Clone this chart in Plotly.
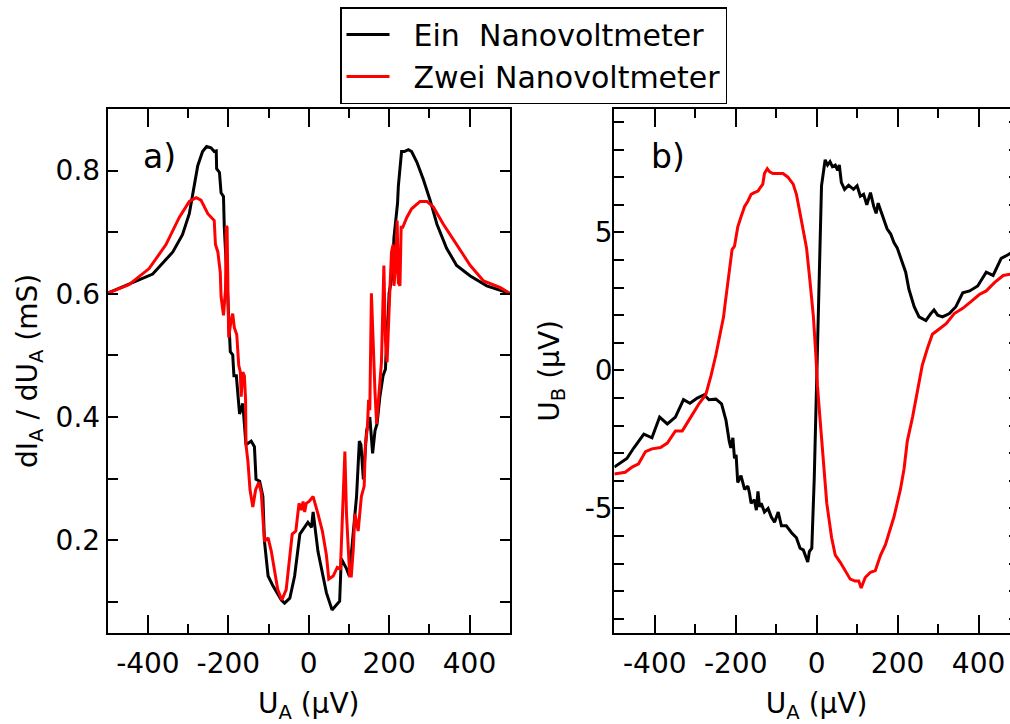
import plotly.graph_objects as go

# ---------------- Panel a: dI_A/dU_A (mS) vs U_A (µV) ----------------
a_ein_x = [-500, -438, -388, -338, -314, -297, -276, -264, -254, -243, -235, -230, -229,
           -222, -218, -212, -210, -205, -201, -197, -195, -189, -186, -180, -176, -172,
           -164, -156, -143, -135, -131, -122, -114, -110, -101, -89, -68, -60, -47, -35,
           -22, -10, -2, 7, 11, 23, 44, 58, 77, 81, 94, 101, 112, 119, 126, 130, 136, 144,
           152, 159, 165, 170, 177, 185, 191, 194, 198, 200, 206, 210, 212, 217, 221, 223,
           227, 231, 238, 248, 256, 269, 285, 302, 319, 343, 368, 402, 443, 500]
a_ein_y = [0.601, 0.618, 0.632, 0.668, 0.696, 0.730, 0.808, 0.831, 0.839, 0.837, 0.831, 0.832,
           0.803, 0.797, 0.764, 0.758, 0.708, 0.646, 0.579, 0.534, 0.506, 0.501, 0.467, 0.467,
           0.433, 0.405, 0.422, 0.355, 0.361, 0.352, 0.299, 0.296, 0.271, 0.198, 0.142, 0.126,
           0.103, 0.098, 0.106, 0.142, 0.210, 0.221, 0.229, 0.221, 0.246, 0.182, 0.115, 0.087,
           0.101, 0.170, 0.154, 0.142, 0.226, 0.271, 0.361, 0.355, 0.299, 0.378, 0.400, 0.341,
           0.378, 0.389, 0.433, 0.467, 0.478, 0.534, 0.568, 0.601, 0.624, 0.657, 0.691, 0.719,
           0.747, 0.775, 0.803, 0.831, 0.831, 0.834, 0.831, 0.814, 0.786, 0.752, 0.713, 0.674,
           0.646, 0.629, 0.613, 0.601]

a_zwei_x = [-500, -447, -397, -355, -322, -297, -280, -268, -251, -235, -232, -226, -220,
            -218, -212, -207, -205, -203, -200, -199, -193, -189, -185, -179, -174, -170,
            -168, -164, -160, -157, -156, -151, -146, -139, -132, -124, -118, -114, -110,
            -101, -93, -77, -67, -56, -41, -32, -24, -18, -14, -10, -6, 1, 11, 23, 34, 44,
            50, 61, 71, 79, 90, 94, 102, 106, 111, 115, 123, 131, 138, 141, 146, 149, 152,
            156, 160, 165, 169, 173, 177, 181, 187, 191, 195, 198, 202, 206, 210, 212, 216,
            220, 223, 227, 230, 234, 244, 256, 277, 294, 310, 335, 368, 402, 435, 477, 500]
a_zwei_y = [0.601, 0.615, 0.641, 0.680, 0.724, 0.750, 0.756, 0.752, 0.730, 0.719, 0.680,
            0.668, 0.635, 0.596, 0.565, 0.607, 0.710, 0.708, 0.568, 0.529, 0.557, 0.568,
            0.545, 0.534, 0.484, 0.473, 0.433, 0.473, 0.467, 0.428, 0.355, 0.327, 0.282,
            0.254, 0.282, 0.294, 0.277, 0.226, 0.198, 0.204, 0.182, 0.120, 0.103, 0.120,
            0.210, 0.215, 0.260, 0.249, 0.263, 0.246, 0.260, 0.263, 0.271, 0.243, 0.215,
            0.176, 0.137, 0.142, 0.156, 0.154, 0.344, 0.243, 0.142, 0.142, 0.187, 0.243,
            0.215, 0.271, 0.288, 0.355, 0.383, 0.428, 0.411, 0.601, 0.523, 0.439, 0.389,
            0.428, 0.467, 0.489, 0.646, 0.523, 0.489, 0.551, 0.607, 0.668, 0.680, 0.613,
            0.641, 0.719, 0.618, 0.613, 0.708, 0.708, 0.724, 0.738, 0.750, 0.750, 0.741,
            0.713, 0.680, 0.646, 0.621, 0.610, 0.601]

# ---------------- Panel b: U_B (µV) vs U_A (µV) ----------------
b_ein_x = [-500, -469, -452, -427, -407, -388, -369, -349, -329, -313, -295, -278, -266,
           -249, -235, -224, -216, -212, -207, -203, -199, -195, -187, -178, -170, -166,
           -162, -154, -149, -145, -141, -137, -129, -120, -112, -104, -95, -87, -75, -62,
           -50, -41, -33, -22, -18, -12, -6, 0, 6, 12, 21, 27, 33, 39, 46, 52, 56, 61, 69,
           79, 91, 100, 108, 116, 124, 133, 141, 147, 152, 158, 166, 174, 183, 191, 199,
           205, 212, 220, 228, 241, 253, 270, 282, 290, 299, 311, 328, 344, 361, 378, 398,
           419, 436, 456, 473, 485, 500]
b_ein_y = [-3.50, -3.19, -2.81, -2.31, -2.44, -1.69, -1.94, -1.69, -1.06, -1.19, -1.00,
           -0.88, -1.06, -1.04, -1.21, -1.81, -2.56, -2.81, -2.44, -3.19, -3.06, -4.06,
           -3.81, -4.31, -4.19, -4.44, -4.81, -4.69, -5.06, -4.38, -4.94, -4.81, -5.13,
           -5.00, -5.31, -5.50, -5.13, -5.63, -5.63, -5.88, -6.06, -6.44, -6.50, -6.94,
           -6.56, -6.44, -3.94, -0.19, 3.19, 6.69, 7.63, 7.44, 7.56, 7.38, 7.44, 7.25, 7.44,
           6.81, 6.56, 6.71, 6.56, 6.69, 6.31, 6.38, 6.00, 6.44, 5.94, 5.69, 6.06, 5.81,
           5.44, 5.13, 4.94, 4.63, 4.44, 4.19, 3.94, 3.56, 2.94, 2.31, 1.94, 1.81, 2.06,
           2.19, 2.00, 1.94, 2.06, 2.31, 2.81, 2.88, 3.06, 3.56, 3.44, 4.06, 4.19, 4.31, 4.50]

b_zwei_x = [-500, -473, -456, -440, -423, -407, -386, -369, -349, -332, -311, -290, -274,
            -261, -249, -237, -230, -227, -220, -216, -209, -203, -195, -187, -178, -170,
            -162, -154, -145, -139, -133, -129, -122, -116, -108, -83, -71, -58, -50, -41,
            -33, -25, -17, -8, -2, 2, 8, 17, 25, 37, 46, 58, 71, 83, 95, 104, 110, 120, 133,
            145, 158, 170, 183, 191, 199, 207, 216, 224, 237, 249, 261, 274, 286, 303, 320,
            340, 361, 382, 402, 419, 440, 461, 485, 500]
b_zwei_y = [-3.75, -3.69, -3.50, -3.38, -2.94, -2.84, -2.79, -2.63, -2.19, -2.19, -1.69,
            -1.19, -0.88, -0.19, 0.56, 1.44, 1.94, 2.31, 3.06, 3.44, 4.38, 4.50, 5.19, 5.56,
            5.94, 6.13, 6.38, 6.44, 6.50, 6.63, 6.75, 7.13, 7.31, 7.19, 7.13, 7.13, 7.00,
            6.75, 6.38, 5.69, 5.06, 4.44, 3.31, 1.94, 0.56, -0.56, -1.69, -3.31, -4.81,
            -6.06, -6.69, -6.94, -7.25, -7.56, -7.63, -7.63, -7.88, -7.50, -7.31, -7.25,
            -6.69, -6.31, -5.69, -5.31, -4.81, -4.31, -3.56, -2.56, -1.69, -0.69, 0.19,
            0.81, 1.31, 1.50, 1.69, 2.06, 2.25, 2.50, 2.75, 2.88, 3.19, 3.44, 3.50, 3.55]

series_names = ["\u00a0\u00a0Ein\u00a0 Nanovoltmeter", "\u00a0\u00a0Zwei Nanovoltmeter"]
series_colors = ["#000000", "#ff0000"]

x_tickvals = [-400, -200, 0, 200, 400]
x_ticktext = ["-400", "-200", "0", "200", "400"]
ya_tickvals = [0.2, 0.4, 0.6, 0.8]
ya_ticktext = ["0.2", "0.4", "0.6", "0.8"]
yb_tickvals = [-5, 0, 5]
yb_ticktext = ["-5", "0", "5"]

FONT = "DejaVu Sans"
W, H = 1024, 724   # panel b runs past the 1010px window and is cut at its edge

fig = go.Figure()
fig.add_trace(go.Scatter(x=a_ein_x, y=a_ein_y, mode="lines", name=series_names[0],
                         line=dict(color=series_colors[0], width=3), xaxis="x", yaxis="y"))
fig.add_trace(go.Scatter(x=a_zwei_x, y=a_zwei_y, mode="lines", name=series_names[1],
                         line=dict(color=series_colors[1], width=3), xaxis="x", yaxis="y"))
fig.add_trace(go.Scatter(x=b_ein_x, y=b_ein_y, mode="lines", name=series_names[0],
                         showlegend=False,
                         line=dict(color=series_colors[0], width=3), xaxis="x2", yaxis="y2"))
fig.add_trace(go.Scatter(x=b_zwei_x, y=b_zwei_y, mode="lines", name=series_names[1],
                         showlegend=False,
                         line=dict(color=series_colors[1], width=3), xaxis="x2", yaxis="y2"))

ydom = [(H - 632.7) / H, (H - 109) / H]

def axis_common(vals, text, minor_dtick, ticklen, minor_len, standoff):
    return dict(
        showline=True, linecolor="black", linewidth=2, mirror="ticks",
        ticks="inside", ticklen=ticklen, tickwidth=1.6, tickcolor="black",
        tickmode="array", tickvals=vals, ticktext=text,
        ticklabelstandoff=standoff,
        minor=dict(dtick=minor_dtick, tick0=0, ticks="inside", ticklen=minor_len,
                   tickwidth=1.6, tickcolor="black", showgrid=False),
        showgrid=False, zeroline=False, automargin=False,
        tickfont=dict(family=FONT, size=28, color="black"),
    )

xt = "U<sub>A</sub> (µV)"
fig.update_layout(
    width=W, height=H,
    margin=dict(l=0, r=0, t=0, b=0),
    paper_bgcolor="white", plot_bgcolor="white",
    font=dict(family=FONT, size=28, color="black"),
    xaxis=dict(domain=[107.7 / W, 509.7 / W], range=[-500, 500], anchor="y",
               title=dict(text=xt, font=dict(family=FONT, size=28), standoff=14),
               **axis_common(x_tickvals, x_ticktext, 100, 18, 9, 5)),
    yaxis=dict(domain=ydom, range=[0.05, 0.9], anchor="x",
               title=dict(text="dI<sub>A</sub> / dU<sub>A</sub> (mS)",
                          font=dict(family=FONT, size=28), standoff=10),
               **axis_common(ya_tickvals, ya_ticktext, 0.1, 10, 10, 0)),
    xaxis2=dict(domain=[614.3 / W, 1019 / W], range=[-500, 500], anchor="y2",
                title=dict(text=xt, font=dict(family=FONT, size=28), standoff=14),
                **axis_common(x_tickvals, x_ticktext, 100, 18, 9, 5)),
    yaxis2=dict(domain=ydom, range=[-9.5, 9.47], anchor="x2",
                title=dict(text="U<sub>B</sub> (µV)", font=dict(family=FONT, size=28),
                           standoff=17),
                **axis_common(yb_tickvals, yb_ticktext, 1, 10, 10, -6)),
    legend=dict(x=340 / W, y=1 - 7 / H, xanchor="left", yanchor="top",
                bordercolor="black", borderwidth=1.5, bgcolor="white",
                font=dict(family=FONT, size=30, color="black"),
                itemwidth=43, tracegroupgap=0),
    showlegend=True,
    annotations=[
        dict(text="a)", xref="x domain", yref="y domain", x=0.083, y=0.91,
             xanchor="left", yanchor="middle", showarrow=False,
             font=dict(family=FONT, size=33, color="black")),
        dict(text="b)", xref="x2 domain", yref="y2 domain", x=0.085, y=0.91,
             xanchor="left", yanchor="middle", showarrow=False,
             font=dict(family=FONT, size=33, color="black")),
    ],
)

fig.write_html(
    "out.html",
    config={"displayModeBar": False},
    post_script=("document.body.style.margin='0';"
                 "document.body.style.overflow='hidden';"
                 "document.documentElement.style.overflow='hidden';"),
)
